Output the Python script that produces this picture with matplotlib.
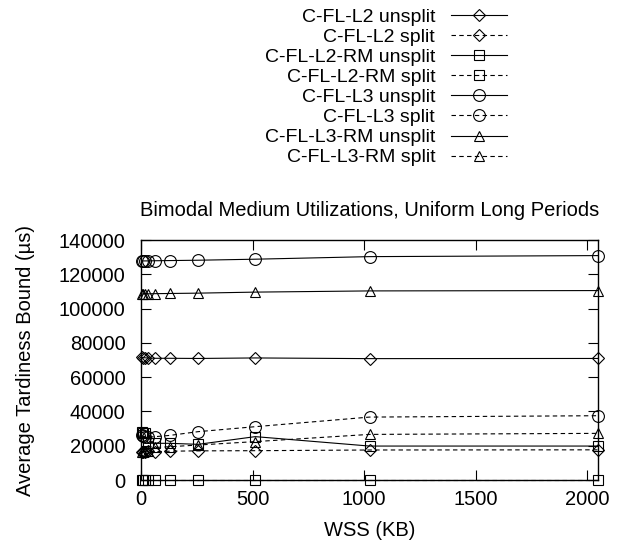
import matplotlib
matplotlib.use("Agg")
import matplotlib.pyplot as plt

plt.rcParams['font.family'] = ['Liberation Sans', 'DejaVu Sans']

wss = [4, 8, 16, 32, 64, 128, 256, 512, 1024, 2048]

l2_unsplit = [71500, 71400, 71300, 71200, 71000, 71000, 70900, 71200, 70800, 70900]
l2_split = [16500, 16500, 16600, 16700, 16500, 16800, 17000, 17100, 17500, 17600]
l2rm_unsplit = [27800, 27600, 27200, 21500, 21400, 21400, 20800, 25300, 19800, 19800]
l2rm_split = [0, 0, 0, 0, 0, 0, 0, 0, 0, 0]
l3_unsplit = [127800, 127800, 127800, 127800, 127900, 128000, 128200, 128800, 130300, 130900]
l3_split = [26000, 25500, 25300, 25000, 25300, 26000, 28200, 31100, 36700, 37500]
l3rm_unsplit = [108500, 108500, 108600, 108600, 108700, 108800, 109000, 109600, 110300, 110500]
l3rm_split = [16500, 16600, 16700, 17000, 19000, 19400, 20400, 22400, 26600, 27200]

series = [
    ("C-FL-L2 unsplit", l2_unsplit, 'D', '-'),
    ("C-FL-L2 split", l2_split, 'D', (0, (4, 3))),
    ("C-FL-L2-RM unsplit", l2rm_unsplit, 's', '-'),
    ("C-FL-L2-RM split", l2rm_split, 's', (0, (4, 3))),
    ("C-FL-L3 unsplit", l3_unsplit, 'o', '-'),
    ("C-FL-L3 split", l3_split, 'o', (0, (4, 3))),
    ("C-FL-L3-RM unsplit", l3rm_unsplit, '^', '-'),
    ("C-FL-L3-RM split", l3rm_split, '^', (0, (4, 3))),
]

fig = plt.figure(figsize=(6.22, 5.48), dpi=100)
ax = fig.add_axes([141/622, 1-480/548, (598-141)/622, (480-240)/548])

msz = {'D': 6, 's': 7.5, 'o': 8.5, '^': 7.5}
for label, vals, mk, ls in series:
    ax.plot(wss, vals, color='black', linestyle=ls, linewidth=0.8,
            marker=mk, markersize=msz[mk], markerfacecolor='none',
            markeredgecolor='black', markeredgewidth=0.8,
            label=label, clip_on=False)

ax.set_xlim(0, 2048)
ax.set_ylim(0, 140000)
ax.set_xticks([0, 500, 1000, 1500, 2000])
ax.set_yticks(range(0, 140001, 20000))
ax.tick_params(direction='in', length=7, width=0.8, top=True, right=True,
               labelsize=14.5)
ax.tick_params(axis='y', pad=11)
ax.tick_params(axis='x', pad=7)
for s in ax.spines.values():
    s.set_linewidth(1.0)

ax.set_xlabel("WSS (KB)", fontsize=14.5, labelpad=9)
ax.set_ylabel("Average Tardiness Bound (\u00b5s)", fontsize=14.5, labelpad=17)
ax.set_title("Bimodal Medium Utilizations, Uniform Long Periods", fontsize=14.5, pad=17)

leg = fig.legend(loc='upper right', bbox_to_anchor=(511/622, 1-4/548),
                 markerfirst=False, frameon=False, fontsize=14,
                 labelspacing=0.13, handlelength=2.9, handletextpad=0.8,
                 borderaxespad=0, borderpad=0.2)

fig.savefig("out.png", dpi=100)
